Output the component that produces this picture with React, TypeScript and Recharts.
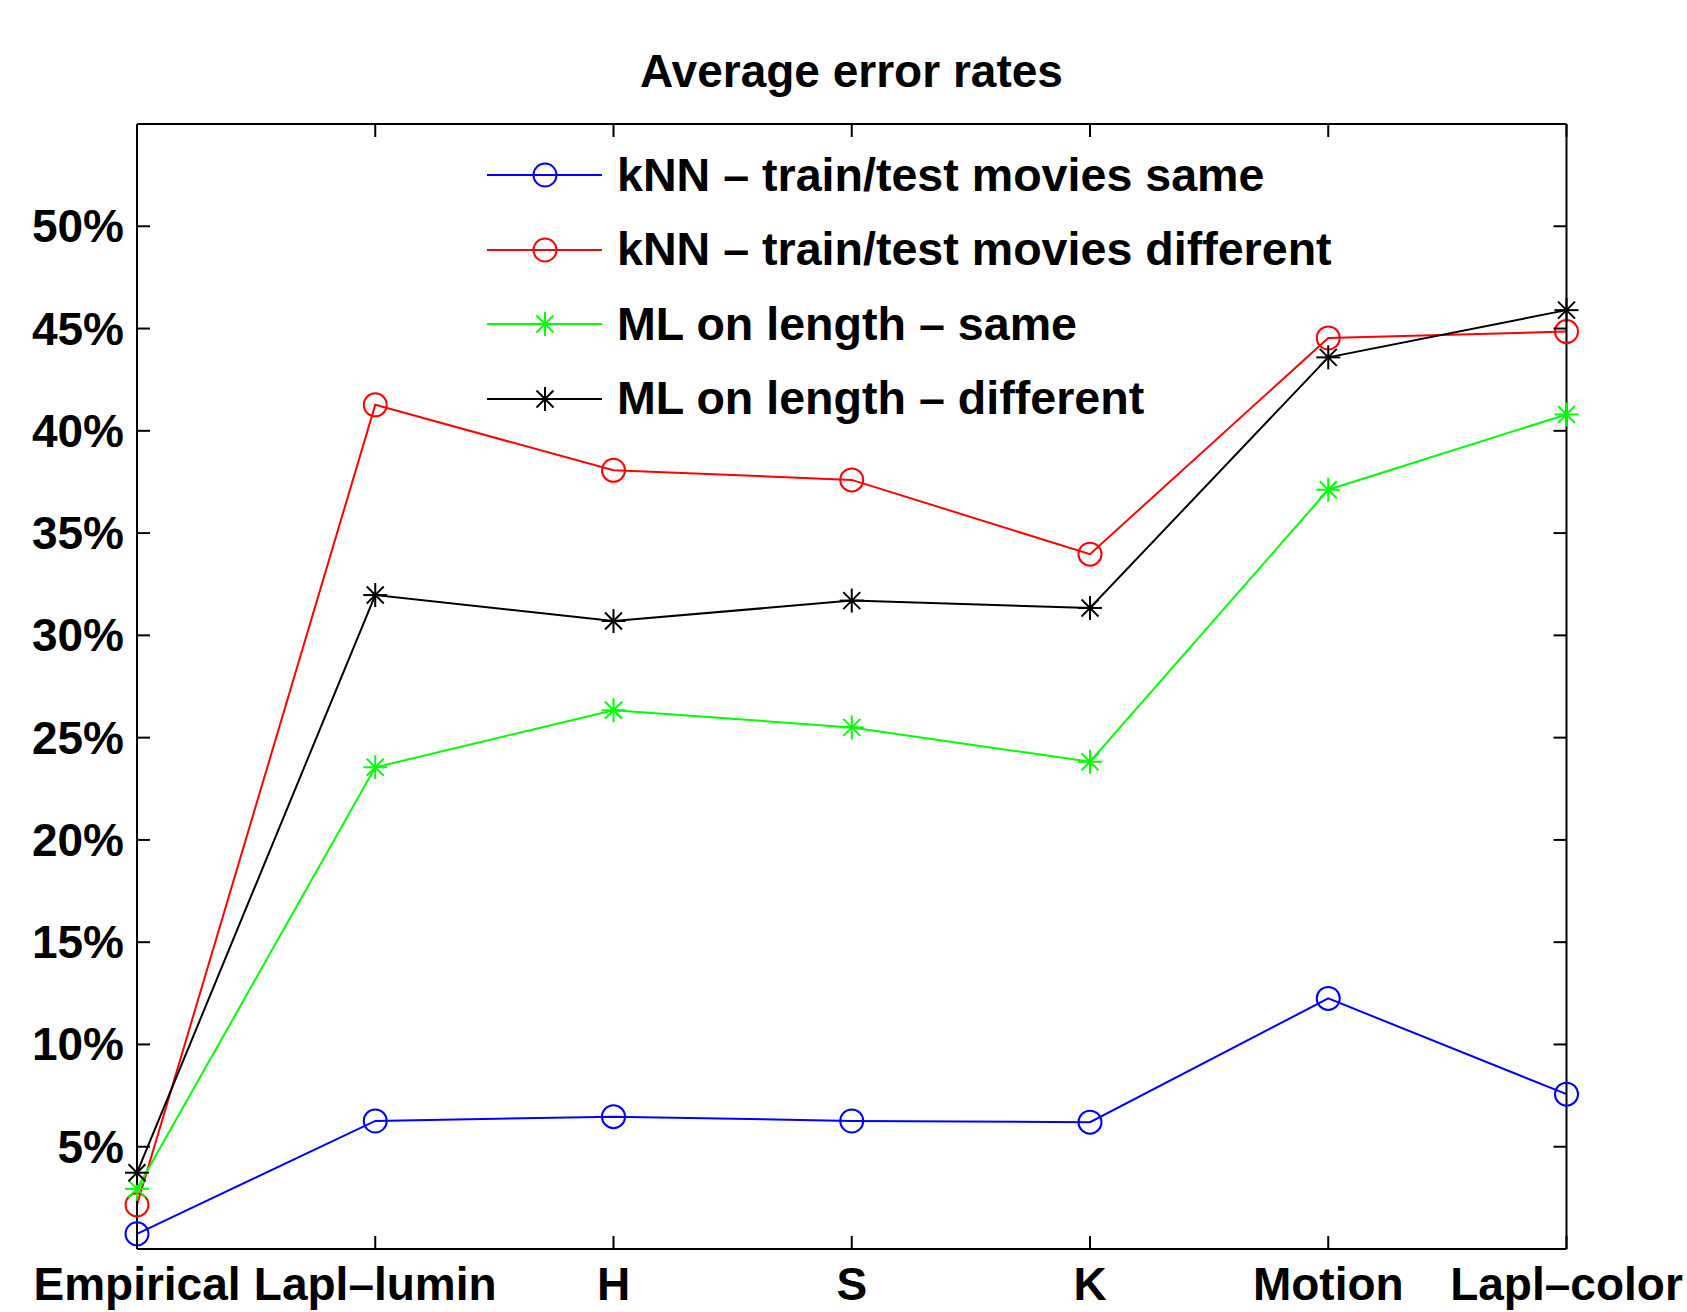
import React from "react";
import { LineChart, Line, XAxis, YAxis } from "recharts";

// ── data ────────────────────────────────────────────────────────────────────
const categories = ["Empirical", "Lapl–lumin", "H", "S", "K", "Motion", "Lapl–color"];
const knnSame = [0.74, 6.26, 6.47, 6.26, 6.2, 12.25, 7.57];
const knnDiff = [2.16, 41.27, 38.07, 37.6, 33.97, 44.54, 44.85];
const mlSame = [2.94, 23.55, 26.34, 25.5, 23.82, 37.12, 40.8];
const mlDiff = [3.73, 31.97, 30.7, 31.7, 31.34, 43.59, 45.9];
const yTicks = [5, 10, 15, 20, 25, 30, 35, 40, 45, 50];

const series = [
  { key: "knnSame", name: "kNN – train/test movies same", color: "#0000ff", marker: "circle" },
  { key: "knnDiff", name: "kNN – train/test movies different", color: "#ff0000", marker: "circle" },
  { key: "mlSame", name: "ML on length – same", color: "#00ff00", marker: "star" },
  { key: "mlDiff", name: "ML on length – different", color: "#000000", marker: "star" },
];

const data = categories.map((name, i) => ({
  name,
  knnSame: knnSame[i],
  knnDiff: knnDiff[i],
  mlSame: mlSame[i],
  mlDiff: mlDiff[i],
}));

const FONT = "'Liberation Sans', Arial, Helvetica, sans-serif";
const FS = 46;
const TICK = 13;

function Marker({ cx, cy, type, color }: { cx: number; cy: number; type: string; color: string }) {
  if (type === "circle") {
    return <circle cx={cx} cy={cy} r={11.5} fill="none" stroke={color} strokeWidth={2} />;
  }
  const a = 12;
  const d = 8.5;
  return (
    <g stroke={color} strokeWidth={2}>
      <line x1={cx - a} x2={cx + a} y1={cy} y2={cy} />
      <line x1={cx} x2={cx} y1={cy - a} y2={cy + a} />
      <line x1={cx - d} x2={cx + d} y1={cy - d} y2={cy + d} />
      <line x1={cx - d} x2={cx + d} y1={cy + d} y2={cy - d} />
    </g>
  );
}

// ── inward MATLAB-style ticks ──────────────────────────────────────────────
const LeftTick = ({ x, y, payload }: any) => (
  <g>
    <line x1={x} x2={x + TICK} y1={y} y2={y} stroke="#000" strokeWidth={2} />
    <text x={x - 13} y={y} textAnchor="end" dominantBaseline="central"
      fontFamily={FONT} fontSize={FS} fontWeight="bold" fill="#000">
      {payload.value}%
    </text>
  </g>
);
const RightTick = ({ x, y }: any) => (
  <line x1={x} x2={x - TICK} y1={y} y2={y} stroke="#000" strokeWidth={2} />
);
const TopTick = ({ x, y }: any) => (
  <line x1={x} x2={x} y1={y} y2={y + TICK} stroke="#000" strokeWidth={2} />
);
const BottomTick = ({ x, y, payload }: any) => (
  <g>
    <line x1={x} x2={x} y1={y} y2={y - TICK} stroke="#000" strokeWidth={2} />
    <text x={x} y={y + 35} textAnchor="middle" dominantBaseline="central"
      fontFamily={FONT} fontSize={FS} fontWeight="bold" fill="#000">
      {payload.value}
    </text>
  </g>
);

function LegendBox() {
  return (
    <div style={{ position: "absolute", left: 487, top: 138, fontFamily: FONT, fontSize: 46.6, fontWeight: "bold", color: "#000" }}>
      {series.map((s) => (
        <div key={s.key} style={{ height: 74.5, display: "flex", alignItems: "center" }}>
          <svg width={130} height={40} style={{ flex: "none" }}>
            <line x1={0} x2={115} y1={20} y2={20} stroke={s.color} strokeWidth={2} />
            <Marker cx={58} cy={20} type={s.marker} color={s.color} />
          </svg>
          <span style={{ whiteSpace: "nowrap", lineHeight: 1 }}>{s.name}</span>
        </div>
      ))}
    </div>
  );
}

export default function App() {
  return (
    <div style={{ position: "absolute", left: 0, top: 0, width: 1687, height: 1312, background: "#fff" }}>
      <div
        style={{
          position: "absolute", left: 0, width: 1703, top: 45, textAlign: "center",
          fontFamily: FONT, fontSize: FS, fontWeight: "bold", lineHeight: "52px",
        }}
      >
        Average error rates
      </div>
      <LineChart width={1687} height={1312} data={data}
        margin={{ top: 104, right: 100.5, bottom: 23, left: 77 }}>
        <XAxis xAxisId="b" dataKey="name" orientation="bottom" height={40}
          axisLine={{ stroke: "#000", strokeWidth: 2 }} tickLine={false}
          tickSize={0} tickMargin={0} tick={<BottomTick />} interval={0} padding={{ left: 0, right: 0 }} />
        <XAxis xAxisId="t" dataKey="name" orientation="top" height={20}
          axisLine={{ stroke: "#000", strokeWidth: 2 }} tickLine={false}
          tickSize={0} tickMargin={0} tick={<TopTick />} interval={0} />
        <YAxis yAxisId="l" orientation="left" width={60} domain={[0, 55]} ticks={yTicks}
          type="number" allowDataOverflow
          axisLine={{ stroke: "#000", strokeWidth: 2 }} tickLine={false}
          tickSize={0} tickMargin={0} tick={<LeftTick />} interval={0} />
        <YAxis yAxisId="r" orientation="right" width={20} domain={[0, 55]} ticks={yTicks}
          type="number" allowDataOverflow
          axisLine={{ stroke: "#000", strokeWidth: 2 }} tickLine={false}
          tickSize={0} tickMargin={0} tick={<RightTick />} interval={0} />
        {series.map((s) => (
          <Line key={s.key} xAxisId="b" yAxisId="l" type="linear" dataKey={s.key} name={s.name}
            stroke={s.color} strokeWidth={2} isAnimationActive={false}
            dot={(p: any) => <Marker key={`${s.key}-${p.index}`} cx={p.cx} cy={p.cy} type={s.marker} color={s.color} />}
            activeDot={false} />
        ))}
      </LineChart>
      <LegendBox />
    </div>
  );
}
